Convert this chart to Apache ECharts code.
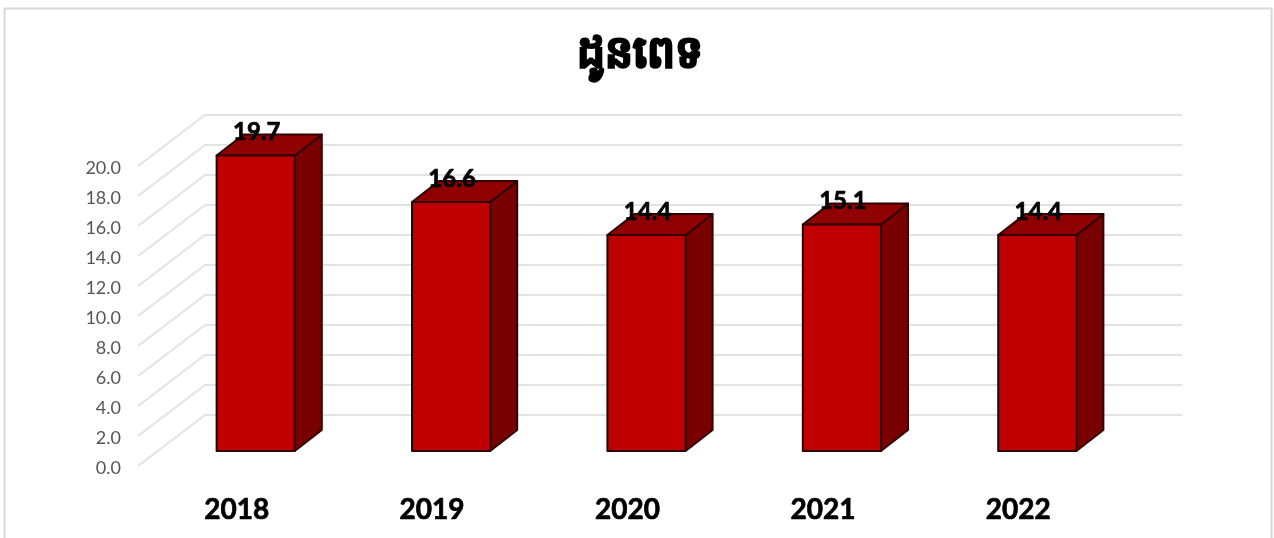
<!DOCTYPE html>
<html><head><meta charset="utf-8">
<style>html,body{margin:0;padding:0;background:#fff}#c{width:1274px;height:538px}</style>
<script src="https://cdn.jsdelivr.net/npm/echarts@6/dist/echarts.min.js"></script>
</head><body><div id="c"></div>
<script>
const titleText = 'ដូនពេទ';
const categories = ['2018','2019','2020','2021','2022'];
const values = [19.7,16.6,14.4,15.1,14.4];
const gridTicks = [0,2,4,6,8,10,12,14,16,18,20];

const chart = echarts.init(document.getElementById('c'), null, {renderer:'canvas'});
const wallDX = 67, wallDY = -51;      // depth of the floor
const barPlaneDX = 20, barPlaneDY = -15; // plane bars stand on
const barDX = 27, barDY = -21;        // depth of each bar
chart.setOption({
  animation:false,
  backgroundColor:'#fff',
  graphic:[{type:'rect',silent:true,z:-1,shape:{x:4.5,y:8.5,width:1267,height:560},
    style:{fill:'#fff',stroke:'#d9d9d9',lineWidth:2}}],
  title:{text:titleText,left:635,top:27,textAlign:'center',
    textStyle:{fontFamily:'"Noto Sans","DejaVu Sans",sans-serif',fontWeight:'bold',fontSize:44,color:'#000',
      textBorderColor:'#000',textBorderWidth:2}},
  grid:{left:138,width:977,top:166,height:300},
  xAxis:{type:'category',data:categories,axisLine:{show:false},axisTick:{show:false},splitLine:{show:false},
    axisLabel:{margin:30,padding:[0,0,0,2],color:'#000',fontFamily:'Lato',fontWeight:'bold',fontSize:28,
      textBorderColor:'#000',textBorderWidth:0.7}},
  yAxis:{type:'value',min:0,max:20,interval:2,axisLine:{show:false},axisTick:{show:false},splitLine:{show:false},
    axisLabel:{margin:17,verticalAlign:'top',lineHeight:5,color:'#555',fontFamily:'Lato',fontSize:18,formatter:v=>v.toFixed(1)}},
  series:[
    {type:'custom',z:1,silent:true,data:gridTicks.map(v=>[v]),encode:{y:0},
     renderItem(params,api){
       const y=api.coord([0,api.value(0)])[1], x0=params.coordSys.x, w=params.coordSys.width;
       const st={stroke:'#e3e3e3',lineWidth:2,fill:null};
       return {type:'group',children:[
         {type:'polyline',shape:{points:[[x0,y],[x0+wallDX,y+wallDY],[x0+wallDX+w,y+wallDY]]},style:st}
       ]};
     }},
    {type:'custom',z:2,silent:true,data:categories.map((c,i)=>[i,values[i]]),encode:{x:0,y:1},
     renderItem(params,api){
       const i=api.value(0), v=api.value(1);
       const top=api.coord([i,v]), base=api.coord([i,0]);
       const bw=api.size([1,0])[0]*0.4;
       const l=top[0]+barPlaneDX-bw/2, r=l+bw, t=top[1]+barPlaneDY, b=base[1]+barPlaneDY;
       const edge={stroke:'#2e0000',lineWidth:2,lineJoin:'round'};
       return {type:'group',children:[
         {type:'polygon',shape:{points:[[r,t],[r+barDX,t+barDY],[r+barDX,b+barDY],[r,b]]},style:{fill:'#780000',...edge}},
         {type:'polygon',shape:{points:[[l,t],[l+barDX,t+barDY],[r+barDX,t+barDY],[r,t]]},style:{fill:'#900000',...edge}},
         {type:'rect',shape:{x:l,y:t,width:bw,height:b-t},style:{fill:'#c00000',...edge}},
         {type:'text',x:(l+r)/2+1,y:t-23,style:{text:v.toFixed(1),align:'center',verticalAlign:'middle',
           fill:'#000',fontFamily:'Lato',fontWeight:'bold',fontSize:24,stroke:'#000',lineWidth:0.7}}
       ]};
     }}
  ]
});
</script></body></html>
